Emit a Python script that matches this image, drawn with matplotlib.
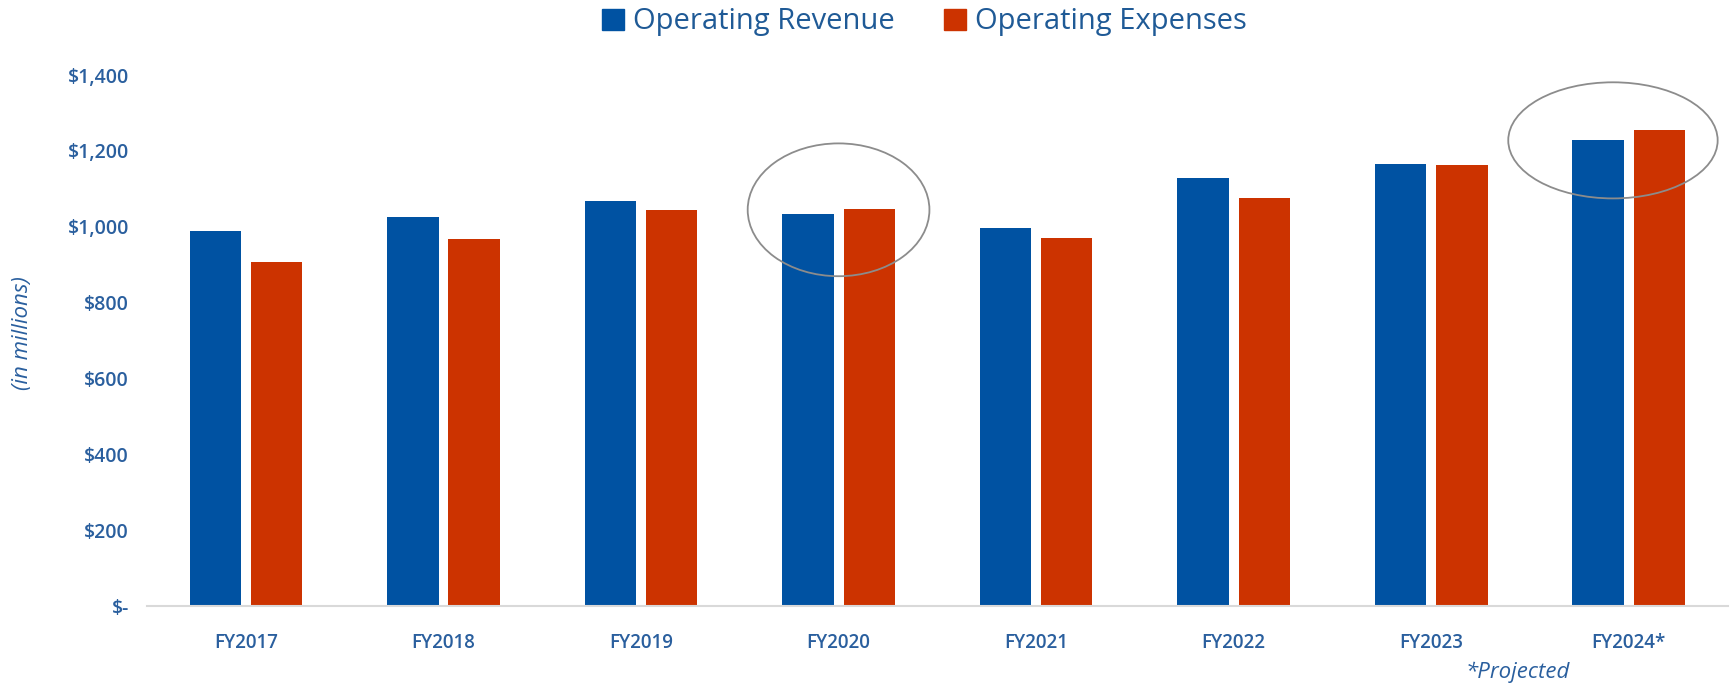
import numpy as np
import matplotlib.pyplot as plt
from matplotlib.patches import Ellipse, Patch

years = ['FY2017', 'FY2018', 'FY2019', 'FY2020', 'FY2021', 'FY2022', 'FY2023', 'FY2024*']
revenue = [990, 1025, 1069, 1033, 997, 1130, 1167, 1228]
expenses = [908, 968, 1044, 1048, 971, 1077, 1163, 1254]
y_ticks = [0, 200, 400, 600, 800, 1000, 1200, 1400]
y_labels = ['$-', '$200', '$400', '$600', '$800', '$1,000', '$1,200', '$1,400']

blue = '#0052A2'
red = '#CC3300'
txt = '#2A5F9E'

plt.rcParams['font.family'] = ['Open Sans', 'DejaVu Sans']

fig = plt.figure(figsize=(17.31, 6.87), dpi=100)
ax = fig.add_axes([0.085, 0.1174, 0.913, 0.7733])

x = np.arange(len(years))
w = 0.26
ax.bar(x - 0.155, revenue, w, color=blue)
ax.bar(x + 0.155, expenses, w, color=red)

ax.set_xlim(-0.5, len(years) - 0.5)
ax.set_ylim(0, 1400)
ax.set_yticks(y_ticks)
ax.set_yticklabels(y_labels, color=txt, fontsize=14, fontweight='semibold')
ax.set_xticks(x)
ax.set_xticklabels(years, color=txt, fontsize=13.5, fontweight='semibold')
ax.tick_params(axis='both', length=0)
ax.tick_params(axis='y', pad=13)
ax.tick_params(axis='x', pad=19)
for s in ['top', 'right', 'left']:
    ax.spines[s].set_visible(False)
ax.spines['bottom'].set_color('#d9d9d9')
ax.spines['bottom'].set_linewidth(1.5)

# highlight circles
ax.add_patch(Ellipse((3, 1045), 0.92, 350, fill=False, edgecolor='#8c8c8c', linewidth=1.3, clip_on=False))
ax.add_patch(Ellipse((6.92, 1228), 1.06, 306, fill=False, edgecolor='#8c8c8c', linewidth=1.3, clip_on=False))

fig.text(0.013, 0.515, '(in millions)', rotation=90, color=txt, fontsize=16,
         style='italic', ha='center', va='center')
fig.text(0.877, 0.022, '*Projected', color=txt, fontsize=16, style='italic',
         ha='center', va='center')

handles = [Patch(color=blue, label='Operating Revenue'),
           Patch(color=red, label='Operating Expenses')]
leg = fig.legend(handles=handles, loc='center', bbox_to_anchor=(0.534, 0.968), ncol=2,
                 frameon=False, fontsize=21, handlelength=0.75, handleheight=0.75,
                 handletextpad=0.3, columnspacing=1.7)
for t in leg.get_texts():
    t.set_color('#1F5A96')

fig.savefig('out.png', dpi=100)
